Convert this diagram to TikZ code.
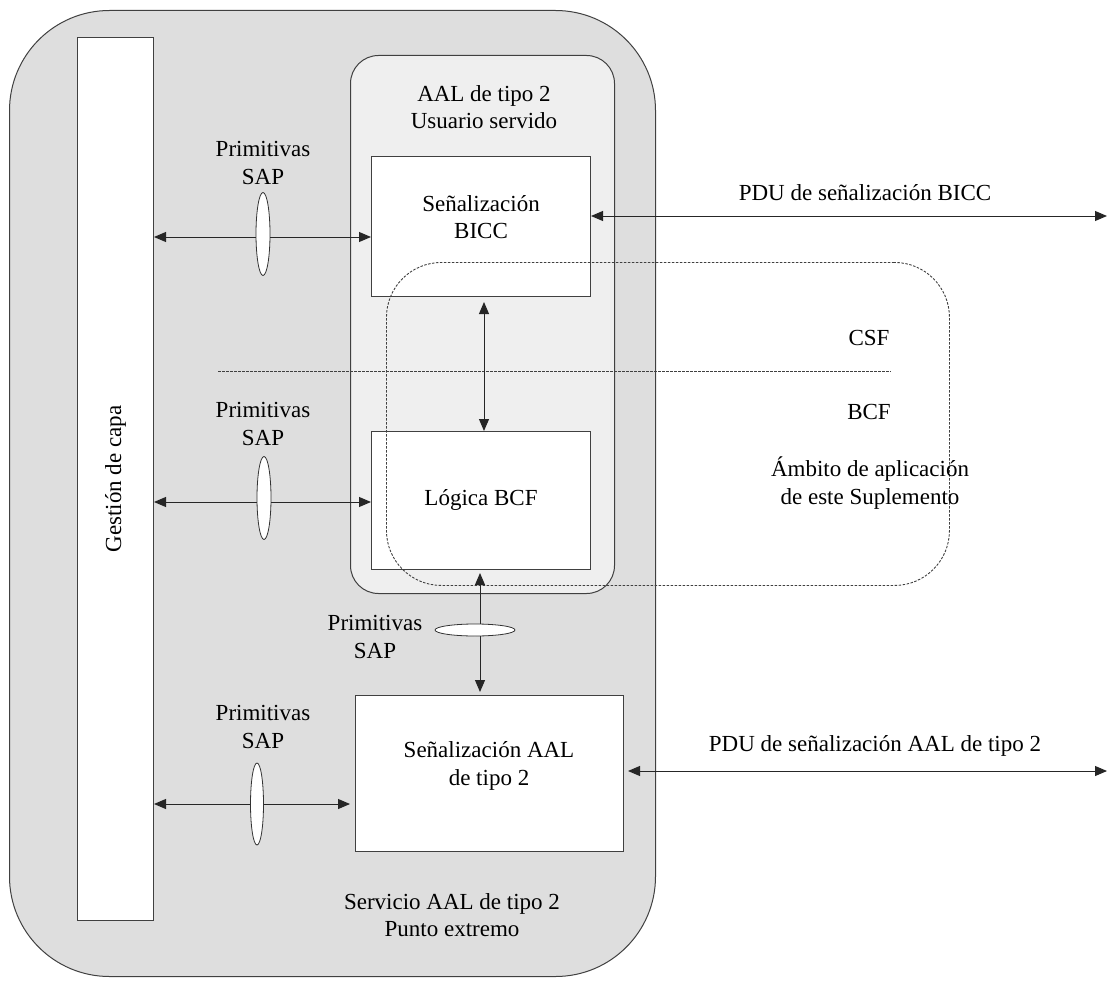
\documentclass[tikz,border=0pt]{standalone}
\usepackage{fontspec}
\setmainfont{Liberation Serif}
\usetikzlibrary{arrows.meta,shapes.geometric}
\definecolor{outerfill}{HTML}{DEDEDE}
\definecolor{innerfill}{HTML}{EFEFEF}
\definecolor{edge}{HTML}{404040}
\begin{document}
\begin{tikzpicture}[x=1pt,y=-1pt,
  font=\fontsize{23}{27.5}\selectfont,
  box/.style={draw=edge, fill=white, line width=1pt, inner sep=0, anchor=north west},
  lbl/.style={align=center, inner sep=0},
  dbl/.style={{Triangle[length=12pt,width=10pt]}-{Triangle[length=12pt,width=10pt]}, line width=1pt, draw=black!85},
  sap/.style={ellipse, draw=black!80, fill=white, line width=0.8pt, inner sep=0},
  dotbox/.style={draw=black!75, line width=0.9pt, dash pattern=on 2.5pt off 1.5pt}]
\useasboundingbox (0,0) rectangle (1107,987);
% outer endpoint service
\node[draw=edge, fill=outerfill, line width=1pt, rounded corners=100pt, minimum width=646pt, minimum height=966pt, inner sep=0, anchor=north west] (outer) at (9,10) {};
% inner served user
\node[draw=edge, fill=innerfill, line width=1pt, rounded corners=28pt, minimum width=264pt, minimum height=538pt, inner sep=0, anchor=north west] (inner) at (350,55) {};
% boxes
\node[box, minimum width=76pt, minimum height=883pt] (gest) at (77,37) {};
\node[box, minimum width=219pt, minimum height=140pt] (bicc) at (371,156) {};
\node[box, minimum width=219pt, minimum height=138pt] (bcf) at (371,431) {};
\node[box, minimum width=268pt, minimum height=156pt] (aal) at (355,695) {};
% dotted scope box
\node[dotbox, rounded corners=55pt, minimum width=563pt, minimum height=323pt, inner sep=0, anchor=north west] (scope) at (386,262) {};
\coordinate (hl1) at (218,371);
\coordinate (hl2) at (891,371);
\draw[dotbox] (hl1) -- (hl2);
% texts
\node[lbl, rotate=90] (tgest) at (gest.center) {Gestión de capa};
\node[lbl] (tinner) at (484,107) {AAL de tipo 2\\Usuario servido};
\node[lbl] (tbicc) at (481,217) {Señalización\\BICC};
\node[lbl] (tbcf) at (481,500) {Lógica BCF};
\node[lbl] (taal) at (489,766) {Señalización AAL\\de tipo 2};
\node[lbl] (touter) at (452,915) {Servicio AAL de tipo 2\\Punto extremo};
\node[lbl] (tcsf) at (869,338) {CSF};
\node[lbl] (tbcfl) at (869,412) {BCF};
\node[lbl] (tscope) at (870,483) {Ámbito de aplicación\\de este Suplemento};
\node[lbl] (tpdu1) at (865,193) {PDU de señalización BICC};
\node[lbl] (tpdu2) at (875,746) {PDU de señalización AAL de tipo 2};
% SAP labels
\node[lbl] (s1) at (263,163) {Primitivas\\SAP};
\node[lbl] (s2) at (263,424) {Primitivas\\SAP};
\node[lbl] (s3) at (263,727) {Primitivas\\SAP};
\node[lbl] (s4) at (375,637) {Primitivas\\SAP};
% connectors
\draw[dbl] (gest.east |- 0,237) -- (bicc.west |- 0,237);
\draw[dbl] (gest.east |- 0,502) -- (bcf.west |- 0,502);
\draw[dbl, shorten >=5pt] (gest.east |- 0,804) -- (aal.west |- 0,804);
\draw[dbl, shorten <=5pt] (bicc.south -| 484,0) -- (bcf.north -| 484,0);
\draw[dbl, shorten <=3pt, shorten >=3pt] (bcf.south -| 480,0) -- (aal.north -| 480,0);
\coordinate (r1) at (1107,216);
\coordinate (r2) at (1107,771);
\draw[dbl] (bicc.east |- r1) -- (r1);
\draw[dbl, shorten <=4pt] (aal.east |- r2) -- (r2);
% SAP ellipses
\node[sap, minimum width=14pt, minimum height=83pt] (e1) at (263,234) {};
\node[sap, minimum width=14pt, minimum height=83pt] (e2) at (264,498) {};
\node[sap, minimum width=13pt, minimum height=82pt] (e3) at (257,804) {};
\node[sap, minimum width=80pt, minimum height=12pt] (e4) at (475,630) {};
\end{tikzpicture}
\end{document}
